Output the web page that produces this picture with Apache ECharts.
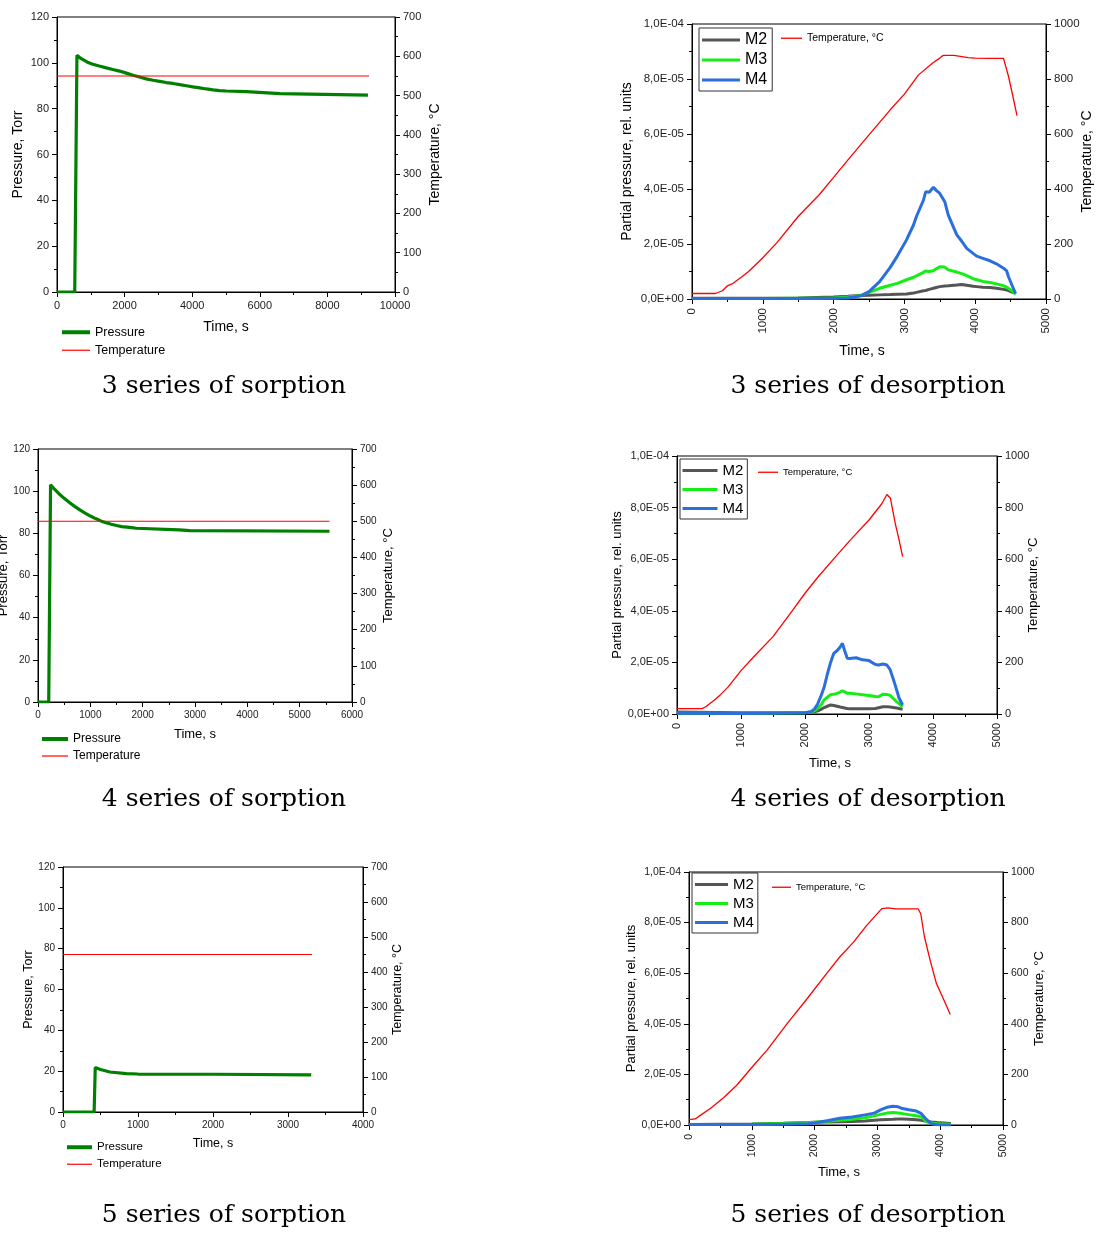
<!DOCTYPE html>
<html><head><meta charset="utf-8">
<script src="https://cdn.jsdelivr.net/npm/echarts@6/dist/echarts.min.js"></script>
<style>html,body{margin:0;padding:0;background:#fff}#c{width:1097px;height:1236px}</style>
</head><body><div id="c"></div>
<script>
// ================= DATA =================
const PP_UNIT = 1e-5; // partial-pressure arrays below are in units of 1e-5

// --- 3 series of sorption ---
const s3Time = [0, 525, 590, 680, 770, 900, 1060, 1250, 1460, 1650, 1850, 2050, 2250, 2440, 2640, 2840, 3040, 3230, 3430, 3630, 3830, 4020, 4220, 4420, 4620, 4810, 5010, 5600, 5650, 6600, 6650, 9200];
const s3Pressure = [0, 0, 103.3, 102.2, 101.4, 100.3, 99.4, 98.6, 97.8, 97.1, 96.4, 95.5, 94.6, 93.8, 93.0, 92.4, 91.9, 91.4, 91.0, 90.5, 90.0, 89.5, 89.1, 88.6, 88.2, 87.9, 87.7, 87.4, 86.7, 86.6, 85.9, 85.9];
const s3TempTime = [0, 9230];
const s3Temp = [550, 550];

// --- 4 series of sorption ---
const s4Time = [0, 205, 240, 300, 400, 500, 600, 700, 800, 900, 1000, 1100, 1200, 1300, 1400, 1500, 1600, 1750, 1880, 1900, 2700, 2900, 2930, 5570];
const s4Pressure = [0, 0, 103, 101.3, 98.8, 96.6, 94.6, 92.8, 91.1, 89.6, 88.2, 87.0, 85.9, 85.0, 84.3, 83.7, 83.2, 82.8, 82.4, 81.8, 81.6, 81.3, 81.0, 81.0];
const s4TempTime = [0, 5570];
const s4Temp = [500, 500];

// --- 5 series of sorption ---
const s5Time = [0, 415, 430, 500, 624, 846, 1000, 2000, 3310];
const s5Pressure = [0, 0, 21.8, 20.8, 19.6, 18.8, 18.6, 18.5, 18.2];
const s5TempTime = [0, 3320];
const s5Temp = [450, 450];

// --- 3 series of desorption ---
const d3Time = [0, 500, 1000, 1500, 2000, 2200, 2300, 2400, 2500, 2650, 2800, 2900, 3030, 3130, 3170, 3270, 3300, 3350, 3410, 3450, 3500, 3570, 3620, 3740, 3810, 3880, 3970, 4020, 4110, 4210, 4300, 4400, 4445, 4470, 4520, 4570];
const d3M2 = [0.03, 0.03, 0.03, 0.04, 0.07, 0.10, 0.12, 0.13, 0.14, 0.15, 0.16, 0.17, 0.18, 0.22, 0.24, 0.30, 0.31, 0.35, 0.39, 0.42, 0.45, 0.47, 0.48, 0.51, 0.53, 0.50, 0.46, 0.45, 0.43, 0.42, 0.39, 0.35, 0.33, 0.30, 0.25, 0.21];
const d3M3 = [0.02, 0.02, 0.02, 0.03, 0.04, 0.07, 0.10, 0.15, 0.24, 0.39, 0.50, 0.57, 0.70, 0.79, 0.84, 0.97, 1.02, 1.00, 1.03, 1.10, 1.17, 1.16, 1.06, 0.98, 0.92, 0.85, 0.74, 0.70, 0.64, 0.60, 0.55, 0.48, 0.43, 0.38, 0.30, 0.18];
const d3M4 = [0.02, 0.02, 0.02, 0.02, 0.03, 0.04, 0.07, 0.13, 0.27, 0.63, 1.15, 1.56, 2.15, 2.70, 3.00, 3.60, 3.90, 3.88, 4.06, 3.95, 3.84, 3.54, 3.05, 2.33, 2.10, 1.84, 1.66, 1.56, 1.48, 1.39, 1.28, 1.12, 1.02, 0.81, 0.50, 0.20];
const d3TempTime = [0, 330, 430, 500, 580, 700, 800, 1000, 1200, 1500, 1800, 2000, 2200, 2500, 2800, 3000, 3200, 3400, 3500, 3550, 3700, 3900, 4000, 4200, 4400, 4420, 4470, 4530, 4590];
const d3Temp = [20, 20, 30, 48, 57, 80, 100, 150, 205, 300, 380, 442, 505, 597, 688, 745, 815, 858, 876, 886, 886, 878, 876, 875, 875, 868, 810, 740, 667];

// --- 4 series of desorption ---
const d4Time = [0, 1000, 2000, 2100, 2150, 2200, 2250, 2300, 2350, 2400, 2450, 2500, 2550, 2585, 2620, 2660, 2700, 2800, 2900, 3000, 3100, 3150, 3220, 3280, 3330, 3380, 3430, 3470, 3525];
const d4M2 = [0.08, 0.05, 0.05, 0.07, 0.09, 0.12, 0.18, 0.25, 0.30, 0.35, 0.33, 0.30, 0.27, 0.25, 0.23, 0.21, 0.20, 0.20, 0.20, 0.20, 0.21, 0.24, 0.28, 0.28, 0.27, 0.25, 0.23, 0.21, 0.18];
const d4M3 = [0.03, 0.03, 0.05, 0.08, 0.12, 0.22, 0.35, 0.55, 0.65, 0.75, 0.77, 0.80, 0.85, 0.90, 0.86, 0.80, 0.80, 0.78, 0.75, 0.72, 0.68, 0.67, 0.77, 0.76, 0.72, 0.60, 0.48, 0.40, 0.28];
const d4M4 = [0.03, 0.02, 0.05, 0.10, 0.20, 0.40, 0.70, 1.05, 1.55, 2.00, 2.35, 2.45, 2.60, 2.74, 2.45, 2.16, 2.15, 2.18, 2.10, 2.07, 1.92, 1.90, 1.94, 1.90, 1.72, 1.35, 0.95, 0.62, 0.35];
const d4TempTime = [0, 390, 450, 520, 600, 680, 800, 1000, 1200, 1500, 1800, 2000, 2200, 2500, 2700, 3000, 3200, 3280, 3335, 3410, 3470, 3525];
const d4Temp = [21, 21, 28, 42, 57, 75, 105, 168, 222, 300, 400, 468, 530, 616, 672, 752, 815, 851, 836, 739, 675, 610];

// --- 5 series of desorption ---
const d5Time = [0, 1000, 1500, 1900, 2000, 2200, 2400, 2600, 2800, 2950, 3050, 3150, 3250, 3330, 3400, 3500, 3620, 3700, 3780, 3860, 3950, 4170];
const d5M2 = [0.02, 0.04, 0.07, 0.10, 0.11, 0.12, 0.13, 0.14, 0.16, 0.19, 0.21, 0.22, 0.23, 0.24, 0.24, 0.23, 0.21, 0.19, 0.15, 0.12, 0.10, 0.06];
const d5M3 = [0.02, 0.03, 0.06, 0.09, 0.11, 0.15, 0.19, 0.23, 0.29, 0.36, 0.42, 0.47, 0.49, 0.47, 0.45, 0.41, 0.37, 0.32, 0.13, 0.08, 0.05, 0.03];
const d5M4 = [0.02, 0.02, 0.03, 0.05, 0.08, 0.17, 0.27, 0.32, 0.40, 0.47, 0.60, 0.70, 0.74, 0.72, 0.65, 0.60, 0.55, 0.45, 0.22, 0.05, 0.01, 0.00];
const d5TempTime = [0, 100, 180, 340, 550, 760, 1030, 1240, 1560, 1880, 2190, 2400, 2620, 2830, 3070, 3170, 3300, 3650, 3690, 3750, 3840, 3940, 4050, 4160];
const d5Temp = [21, 24, 38, 65, 108, 157, 236, 295, 400, 499, 598, 664, 723, 789, 855, 858, 854, 854, 835, 743, 651, 559, 499, 437];

// axis ranges [min, max, interval]
const sorpPressureAxis = [0, 120, 20];
const sorpTempAxis = [0, 700, 100];
const desPPAxis = [0, 1e-4, 2e-5];
const desTempAxis = [0, 1000, 200];
const s3TimeAxis = [0, 10000, 2000];
const s4TimeAxis = [0, 6000, 1000];
const s5TimeAxis = [0, 4000, 1000];
const desTimeAxis = [0, 5000, 1000];

const captions = ['3 series of sorption', '3 series of desorption', '4 series of sorption', '4 series of desorption', '5 series of sorption', '5 series of desorption'];

// ================= CHART =================
const SANS = 'Liberation Sans, Arial, sans-serif';
const SERIF = 'DejaVu Serif, serif';
const C_PRESS = '#008000', C_TEMP = '#ff0000', C_M2 = '#555555', C_M3 = '#14ee14', C_M4 = '#2a6fdb';

function pairs(t, v, k) { k = k || 1; return t.map((x, i) => [x, v[i] * k]); }
function plain(v) { return String(Math.round(v)); }
function sci(v) {
  if (Math.abs(v) < 1e-12) return '0,0E+00';
  let e = Math.floor(Math.log10(Math.abs(v)) + 1e-9);
  let m = v / Math.pow(10, e);
  if (Math.round(m * 10) >= 100) { m /= 10; e++; }
  return m.toFixed(1).replace('.', ',') + 'E' + (e < 0 ? '-' : '+') + String(Math.abs(e)).padStart(2, '0');
}

function baseAxis(range, fs, name, gap, nfs, extra) {
  const a = {
    type: 'value', min: range[0], max: range[1], interval: range[2],
    name: name, nameLocation: 'middle', nameGap: gap, nameMoveOverlap: false,
    nameTextStyle: { color: '#000', fontFamily: SANS, fontSize: nfs },
    axisLine: { show: true, onZero: false, lineStyle: { color: '#000', width: 1 } },
    axisTick: { show: true, inside: false, length: 5, lineStyle: { color: '#000', width: 1 } },
    minorTick: { show: true, splitNumber: 2, length: 3, lineStyle: { color: '#000', width: 1 } },
    splitLine: { show: false }, minorSplitLine: { show: false },
    axisLabel: { color: '#222', fontFamily: SANS, fontSize: fs, margin: 8, showMinLabel: true, showMaxLabel: true, hideOverlap: false, formatter: plain }
  };
  return Object.assign(a, extra || {});
}

const grids = [
  [57, 17, 338, 275], [692, 24, 354, 275],
  [38, 449, 314, 253], [677, 456, 320, 258],
  [63, 867, 300, 245], [689, 872, 314, 253]
];

const xAxes = [], yAxes = [], series = [], legends = [], titles = [];

function sorptionPanel(gi, timeRange, fs, nfs, gaps, pT, pV, tT, tV, leg) {
  const x = baseAxis(timeRange, fs, 'Time, s', gaps[0], nfs, { gridIndex: gi, position: 'bottom' });
  xAxes.push(x);
  const xi = xAxes.length - 1;
  yAxes.push(baseAxis(sorpPressureAxis, fs, 'Pressure, Torr', gaps[1], nfs, { gridIndex: gi, position: 'left' }));
  const yl = yAxes.length - 1;
  yAxes.push(baseAxis(sorpTempAxis, fs, 'Temperature, °C', gaps[2], nfs, { gridIndex: gi, position: 'right' }));
  const yr = yAxes.length - 1;
  series.push({ type: 'line', name: 'Pressure', xAxisIndex: xi, yAxisIndex: yl, data: pairs(pT, pV), symbol: 'none', showSymbol: false,
    color: C_PRESS, lineStyle: { color: C_PRESS, width: 3.2 }, animation: false });
  series.push({ type: 'line', name: 'Temperature', xAxisIndex: xi, yAxisIndex: yr, data: pairs(tT, tV), symbol: 'none', showSymbol: false,
    color: C_TEMP, lineStyle: { color: C_TEMP, width: 1.1 }, animation: false });
  legends.push({ data: ['Pressure'], left: leg.x, top: leg.y1 - leg.fs * 0.5, icon: 'rect', itemWidth: leg.w, itemHeight: 4, padding: 0,
    itemStyle: { borderWidth: 0 }, textStyle: { fontFamily: SANS, fontSize: leg.fs, color: '#000' }, selectedMode: false });
  legends.push({ data: ['Temperature'], left: leg.x, top: leg.y2 - leg.fs * 0.5, icon: 'rect', itemWidth: leg.w, itemHeight: 1.2, padding: 0,
    itemStyle: { borderWidth: 0 }, textStyle: { fontFamily: SANS, fontSize: leg.fs, color: '#000' }, selectedMode: false });
}

function desorptionPanel(gi, fs, nfs, gaps, mT, m2, m3, m4, tT, tV, leg) {
  const x = baseAxis(desTimeAxis, fs, 'Time, s', gaps[0], nfs, { gridIndex: gi, position: 'bottom' });
  x.axisLabel.rotate = 90; x.axisLabel.margin = 9;
  x.nameTextStyle.padding = [0, 14, 0, 0];
  xAxes.push(x);
  const xi = xAxes.length - 1;
  const yLeft = baseAxis(desPPAxis, fs, 'Partial pressure, rel. units', gaps[1], nfs, { gridIndex: gi, position: 'left' });
  yLeft.axisLabel.formatter = sci;
  yAxes.push(yLeft);
  const yl = yAxes.length - 1;
  yAxes.push(baseAxis(desTempAxis, fs, 'Temperature, °C', gaps[2], nfs, { gridIndex: gi, position: 'right' }));
  const yr = yAxes.length - 1;
  [['M2', m2, C_M2], ['M3', m3, C_M3], ['M4', m4, C_M4]].forEach(([n, arr, c]) => {
    series.push({ type: 'line', name: n, xAxisIndex: xi, yAxisIndex: yl, data: pairs(mT, arr, PP_UNIT), symbol: 'none', showSymbol: false,
      color: c, lineStyle: { color: c, width: 3 }, animation: false });
  });
  series.push({ type: 'line', name: 'Temperature, °C', xAxisIndex: xi, yAxisIndex: yr, data: pairs(tT, tV), symbol: 'none', showSymbol: false,
    color: C_TEMP, lineStyle: { color: C_TEMP, width: 1.3 }, animation: false });
  legends.push({ data: ['M2', 'M3', 'M4'], orient: 'vertical', left: leg.bx, top: leg.by, icon: 'rect', itemWidth: leg.iw, itemHeight: 3,
    itemGap: leg.gap, padding: leg.pad, borderColor: '#333', borderWidth: 1,
    itemStyle: { borderWidth: 0 }, textStyle: { fontFamily: SANS, fontSize: leg.fs, color: '#000' }, selectedMode: false });
  legends.push({ data: ['Temperature, °C'], left: leg.tx, top: leg.ty - leg.tfs * 0.5, icon: 'rect', itemWidth: leg.tw, itemHeight: 1.3, padding: 0,
    itemStyle: { borderWidth: 0 }, textStyle: { fontFamily: SANS, fontSize: leg.tfs, color: '#000' }, selectedMode: false });
}

sorptionPanel(0, s3TimeAxis, 11, 14, [28, 32, 33], s3Time, s3Pressure, s3TempTime, s3Temp, { x: 62, y1: 332, y2: 350, w: 28, fs: 12.5 });
desorptionPanel(1, 11.5, 14, [45, 58, 34], d3Time, d3M2, d3M3, d3M4, d3TempTime, d3Temp,
  { bx: 699, by: 28, iw: 38, gap: 4, pad: [4, 5, 3, 3], fs: 16, tx: 781, ty: 38, tw: 21, tfs: 10.5 });
sorptionPanel(2, s4TimeAxis, 10, 13, [25.5, 28.5, 29.5], s4Time, s4Pressure, s4TempTime, s4Temp, { x: 42, y1: 739, y2: 756, w: 26, fs: 12 });
desorptionPanel(3, 11, 13, [42.5, 53.5, 29.5], d4Time, d4M2, d4M3, d4M4, d4TempTime, d4Temp,
  { bx: 680, by: 459, iw: 35, gap: 4, pad: [4, 4, 3, 2.5], fs: 15, tx: 758, ty: 472, tw: 20, tfs: 9.5 });
sorptionPanel(4, s5TimeAxis, 10, 12.5, [25, 28, 28], s5Time, s5Pressure, s5TempTime, s5Temp, { x: 67, y1: 1147, y2: 1164, w: 25, fs: 11.5 });
desorptionPanel(5, 10.5, 13, [40.5, 51.5, 29.5], d5Time, d5M2, d5M3, d5M4, d5TempTime, d5Temp,
  { bx: 692, by: 873, iw: 33, gap: 4, pad: [4, 4, 3, 3], fs: 15, tx: 772, ty: 887, tw: 19, tfs: 9.5 });

const capPos = [[224, 374], [868, 374], [224, 787], [868, 787], [224, 1203], [868, 1203]];
captions.forEach((c, i) => titles.push({ text: c, left: capPos[i][0], top: capPos[i][1], textAlign: 'center', padding: 0,
  textStyle: { fontFamily: SERIF, fontSize: 25, fontWeight: 'normal', color: '#000' } }));

const chart = echarts.init(document.getElementById('c'), null, { renderer: 'canvas' });
chart.setOption({
  backgroundColor: '#fff',
  animation: false,
  title: titles,
  grid: grids.map(g => ({ left: g[0], top: g[1], width: g[2], height: g[3], show: true, borderColor: '#000', borderWidth: 1,
    backgroundColor: 'transparent', containLabel: false, outerBoundsMode: 'none' })),
  xAxis: xAxes,
  yAxis: yAxes,
  legend: legends,
  series: series
});
</script></body></html>
